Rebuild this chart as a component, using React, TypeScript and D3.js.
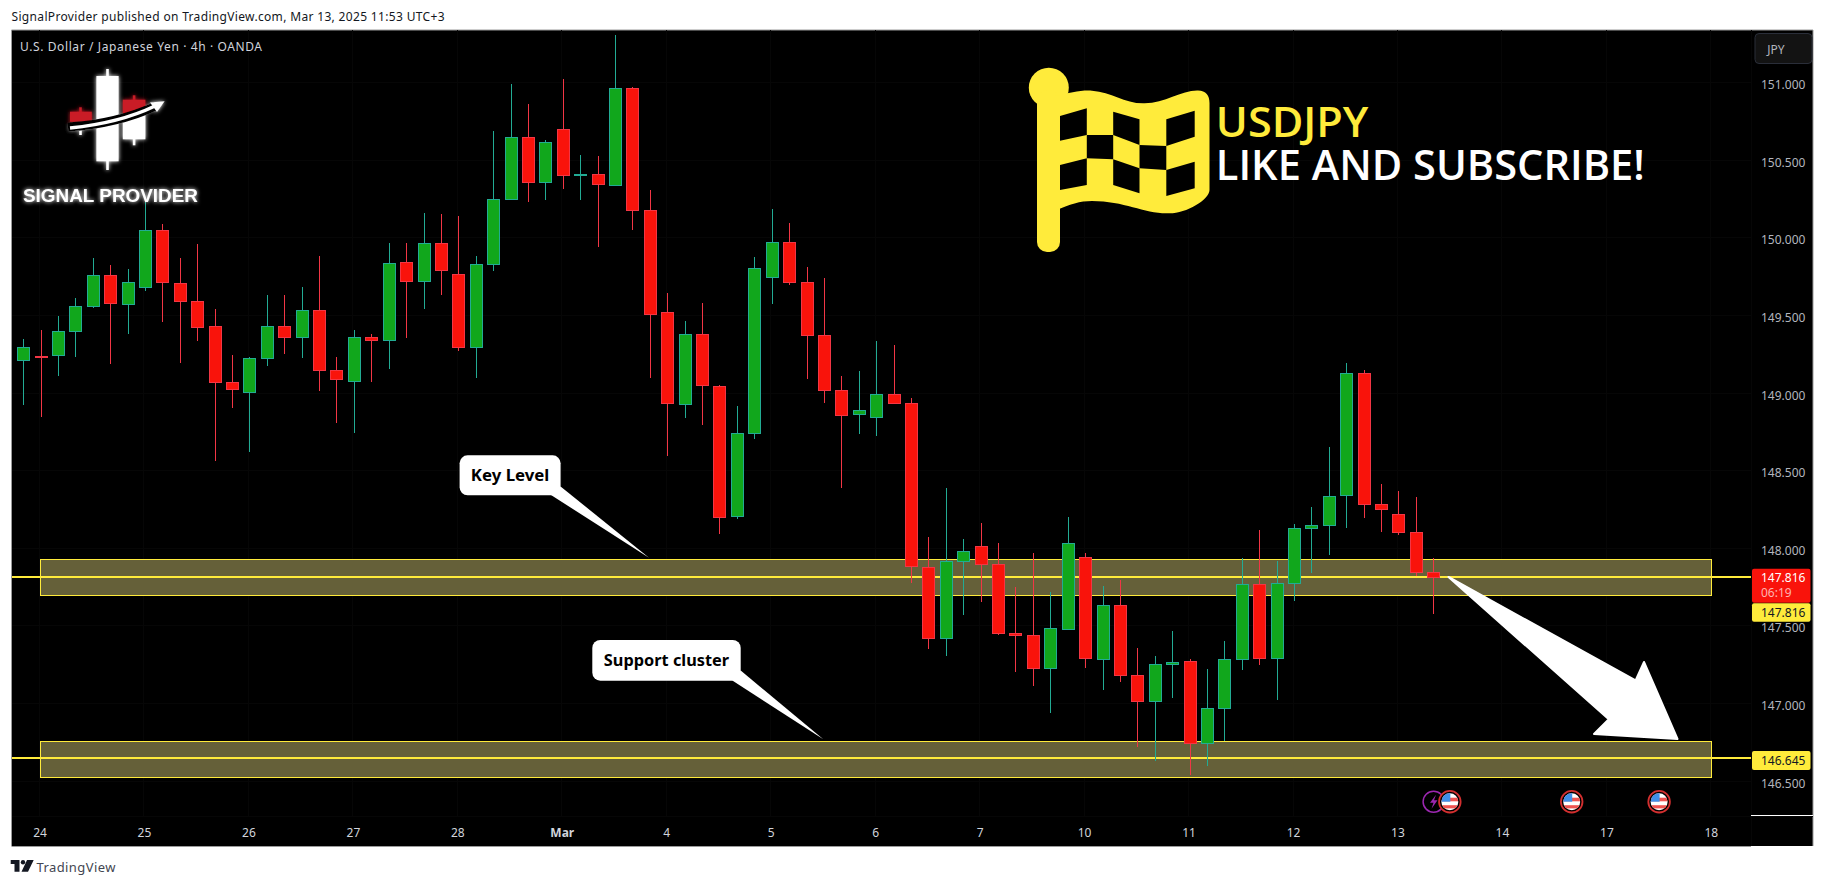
import { useEffect, useRef } from 'react';
import * as d3 from 'd3';

// USD/JPY 4h candles
const opens = [
  149.208, 149.238, 149.24, 149.401, 149.556, 149.758, 149.569, 149.678, 150.048, 149.707,
  149.593, 149.43, 149.069, 149.004, 149.221, 149.43, 149.356, 149.533, 149.146, 149.075,
  149.359, 149.337, 149.842, 149.717, 149.964, 149.765, 149.292, 149.827, 150.245, 150.647,
  150.355, 150.699, 150.407, 150.409, 150.336, 150.963, 150.177, 149.52, 148.925, 149.378,
  149.045, 148.203, 148.738, 149.743, 149.971, 149.713, 149.372, 149.017, 148.86, 148.847,
  148.992, 148.934, 147.877, 147.417, 147.913, 148.012, 147.896, 147.452, 147.439, 147.224,
  147.481, 147.941, 147.282, 147.632, 147.181, 147.011, 147.249, 147.271, 146.743, 146.966,
  147.282, 147.767, 147.288, 147.771, 148.126, 148.147, 148.338, 149.127, 148.283, 148.218,
  148.102, 147.845,
];
const highs = [
  149.348, 149.406, 149.496, 149.612, 149.868, 149.823, 149.797, 150.265, 150.087, 149.868,
  149.96, 149.541, 149.245, 149.232, 149.631, 149.631, 149.681, 149.881, 149.232, 149.406,
  149.38, 149.964, 149.964, 150.158, 150.151, 150.138, 149.881, 150.688, 150.991, 150.862,
  150.63, 151.023, 150.533, 150.527, 151.306, 150.97, 150.308, 149.644, 149.464, 149.58,
  149.051, 148.916, 149.876, 150.183, 150.093, 149.812, 149.741, 149.109, 149.142, 149.333,
  149.307, 148.968, 148.07, 148.388, 148.059, 148.16, 148.033, 147.752, 147.967, 147.718,
  148.199, 147.967, 147.754, 147.795, 147.357, 147.305, 147.467, 147.286, 147.222, 147.4,
  147.935, 148.117, 147.917, 148.156, 148.263, 148.652, 149.193, 149.148, 148.412, 148.368,
  148.33, 147.937,
];
const lows = [
  148.923, 148.847, 149.109, 149.232, 149.548, 149.187, 149.382, 149.657, 149.457, 149.195,
  149.335, 148.564, 148.905, 148.62, 149.176, 149.253, 149.227, 149.015, 148.809, 148.744,
  149.073, 149.155, 149.356, 149.543, 149.631, 149.271, 149.098, 149.788, 150.245, 150.232,
  150.243, 150.314, 150.243, 149.941, 150.334, 150.05, 149.098, 148.596, 148.841, 148.794,
  148.091, 148.19, 148.705, 149.575, 149.696, 149.09, 148.937, 148.39, 148.738, 148.725,
  148.931, 147.778, 147.352, 147.307, 147.571, 147.655, 147.441, 147.204, 147.114, 146.94,
  147.481, 147.23, 147.088, 147.14, 146.721, 146.631, 147.037, 146.541, 146.599, 146.758,
  147.215, 147.249, 147.024, 147.662, 147.84, 147.958, 148.132, 148.196, 148.106, 148.087,
  147.823, 147.576,
];
const closes = [
  149.294, 149.232, 149.397, 149.559, 149.758, 149.575, 149.713, 150.048, 149.711, 149.588,
  149.427, 149.066, 149.021, 149.223, 149.43, 149.356, 149.533, 149.144, 149.086, 149.359,
  149.337, 149.836, 149.717, 149.964, 149.788, 149.292, 149.829, 150.248, 150.647, 150.355,
  150.615, 150.4, 150.411, 150.342, 150.963, 150.174, 149.504, 148.931, 149.378, 149.047,
  148.203, 148.74, 149.803, 149.971, 149.711, 149.369, 149.015, 148.854, 148.888, 148.992,
  148.931, 147.881, 147.417, 147.916, 147.98, 147.894, 147.449, 147.436, 147.224, 147.484,
  148.032, 147.288, 147.632, 147.178, 147.011, 147.252, 147.265, 146.743, 146.968, 147.284,
  147.767, 147.288, 147.774, 148.128, 148.147, 148.334, 149.127, 148.28, 148.254, 148.1,
  147.845, 147.816,
];

const priceTicks = [151, 150.5, 150, 149.5, 149, 148.5, 148, 147.5, 147, 146.5];
const dayLabels = ['24', '25', '26', '27', '28', 'Mar', '4', '5', '6', '7', '10', '11', '12', '13', '14', '17', '18'];
const dayTicks = dayLabels.map((_, k) => 1 + k * 6); // six 4h bars per day

const keyZone = [147.928, 147.696];
const supportZone = [146.756, 146.521];
const keyLevel = 147.816;
const supportLevel = 146.645;
const zoneStartBar = 1;
const zoneEndBar = 97;
const eventBars = [81.95, 88.95, 93.97];

const UP = '#11a71c';
const UP_LINE = '#22ab94';
const DOWN = '#f9130b';
const DOWN_LINE = '#f23645';
const YELLOW = '#ffeb3b';
const FONT = '"Noto Sans", sans-serif';

export default function App() {
  const svgRef = useRef<SVGSVGElement>(null);

  useEffect(() => {
    if (!svgRef.current) return;
    const svg = d3.select(svgRef.current);
    svg.selectAll('*').remove();

    const left = 11.5;
    const plotRight = 1751;
    const right = 1813;
    const top = 30;
    const axisY = 816;
    const bottom = 846;

    const x = d3.scaleLinear().domain([0, 81]).range([23.1, 1433.3]);
    const y = d3.scaleLinear().domain([151, 146.5]).range([82.6, 781]);

    const defs = svg.append('defs');
    const glow = defs.append('filter').attr('id', 'glow').attr('x', '-30%').attr('y', '-30%').attr('width', '160%').attr('height', '160%');
    glow.append('feGaussianBlur').attr('in', 'SourceGraphic').attr('stdDeviation', 2.2).attr('result', 'blur');
    const merge = glow.append('feMerge');
    merge.append('feMergeNode').attr('in', 'blur');
    merge.append('feMergeNode').attr('in', 'SourceGraphic');

    // page and chart frame
    svg.append('rect').attr('width', 1825).attr('height', 886).attr('fill', '#fff');
    svg.append('rect').attr('x', left).attr('y', top).attr('width', right - left).attr('height', bottom - top).attr('fill', '#000');
    svg.append('path')
      .attr('d', `M${left},${bottom}V${top}H${right}V${bottom}`)
      .attr('fill', 'none').attr('stroke', '#9a9a9a').attr('stroke-width', 1);
    svg.append('line').attr('x1', left).attr('x2', plotRight).attr('y1', bottom + 0.5).attr('y2', bottom + 0.5).attr('stroke', '#9a9a9a');

    svg.append('text')
      .attr('x', 11.5).attr('y', 20.5)
      .attr('font-family', FONT).attr('font-size', 12).attr('fill', '#131722')
      .attr('textLength', 433).attr('lengthAdjust', 'spacing')
      .text('SignalProvider published on TradingView.com, Mar 13, 2025 11:53 UTC+3');

    // faint grid
    const grid = svg.append('g').attr('stroke', '#060606').attr('shape-rendering', 'crispEdges');
    grid.selectAll('line.v').data(dayTicks).join('line').attr('class', 'v')
      .attr('x1', (d) => x(d) - 1).attr('x2', (d) => x(d) - 1).attr('y1', top).attr('y2', axisY);
    grid.selectAll('line.h').data(priceTicks).join('line').attr('class', 'h')
      .attr('x1', left).attr('x2', plotRight).attr('y1', (d) => y(d)).attr('y2', (d) => y(d));
    grid.append('line').attr('x1', left).attr('x2', right).attr('y1', axisY).attr('y2', axisY);
    grid.append('line').attr('x1', plotRight).attr('x2', plotRight).attr('y1', top).attr('y2', bottom);

    // zones and their levels
    const zones = svg.append('g').attr('shape-rendering', 'crispEdges');
    [keyZone, supportZone].forEach(([hi, lo]) => {
      zones.append('rect')
        .attr('x', x(zoneStartBar)).attr('width', x(zoneEndBar) - x(zoneStartBar))
        .attr('y', y(hi)).attr('height', y(lo) - y(hi))
        .attr('fill', '#656039').attr('stroke', YELLOW).attr('stroke-width', 1);
    });
    [keyLevel, supportLevel].forEach((level) => {
      zones.append('line')
        .attr('x1', left).attr('x2', plotRight).attr('y1', y(level)).attr('y2', y(level))
        .attr('stroke', YELLOW).attr('stroke-width', 2);
    });

    // candles
    const bars = d3.range(opens.length);
    const candles = svg.append('g').attr('shape-rendering', 'crispEdges');
    const isUp = (i: number) => closes[i] >= opens[i];
    candles.selectAll('line').data(bars).join('line')
      .attr('x1', (i) => Math.round(x(i)) + 0.5).attr('x2', (i) => Math.round(x(i)) + 0.5)
      .attr('y1', (i) => y(highs[i])).attr('y2', (i) => y(lows[i]))
      .attr('stroke', (i) => (isUp(i) ? UP_LINE : DOWN_LINE));
    candles.selectAll('rect').data(bars).join('rect')
      .attr('x', (i) => Math.round(x(i)) - 5.5).attr('width', 12)
      .attr('y', (i) => Math.round(y(Math.max(opens[i], closes[i]))) + 0.5)
      .attr('height', (i) => Math.max(1, Math.round(Math.abs(y(opens[i]) - y(closes[i])))))
      .attr('fill', (i) => (isUp(i) ? UP : DOWN))
      .attr('stroke', (i) => (isUp(i) ? UP_LINE : DOWN_LINE));

    // title
    svg.append('text')
      .attr('x', 20).attr('y', 51)
      .attr('font-family', FONT).attr('font-size', 12).attr('fill', '#d1d4dc')
      .attr('textLength', 242).attr('lengthAdjust', 'spacing')
      .text('U.S. Dollar / Japanese Yen · 4h · OANDA');

    // logo
    const logo = svg.append('g').attr('filter', 'url(#glow)');
    const logoWhite = logo.append('g').attr('fill', '#fff');
    logoWhite.append('rect').attr('x', 106.2).attr('y', 69).attr('width', 2.6).attr('height', 101);
    logoWhite.append('rect').attr('x', 96.4).attr('y', 76).attr('width', 22.2).attr('height', 85.3);
    logoWhite.append('rect').attr('x', 79.2).attr('y', 125).attr('width', 2.6).attr('height', 10);
    logoWhite.append('rect').attr('x', 122.8).attr('y', 114).attr('width', 22.6).attr('height', 25.3);
    logoWhite.append('rect').attr('x', 132.8).attr('y', 139).attr('width', 2.6).attr('height', 6.3);
    const logoRed = logo.append('g').attr('fill', '#c91a25');
    logoRed.append('rect').attr('x', 79.2).attr('y', 107.3).attr('width', 2.6).attr('height', 5);
    logoRed.append('rect').attr('x', 70).attr('y', 111.7).attr('width', 21.8).attr('height', 10);
    logoRed.append('rect').attr('x', 132.8).attr('y', 95.3).attr('width', 2.6).attr('height', 5);
    logoRed.append('rect').attr('x', 122.8).attr('y', 99.7).attr('width', 22.6).attr('height', 14.3);
    logo.append('path').attr('d', 'M68,127 C100,125 130,118 156,106')
      .attr('fill', 'none').attr('stroke', '#000').attr('stroke-width', 9);
    logo.append('path').attr('d', 'M70,128 C100,125 130,118 155,106')
      .attr('fill', 'none').attr('stroke', '#fff').attr('stroke-width', 3.5);
    logo.append('path').attr('d', 'M164.6,101.3 L150,102.5 L157,112 Z').attr('fill', '#fff');
    logo.append('text')
      .attr('x', 23).attr('y', 201.7)
      .attr('font-family', '"Liberation Sans", Arial, sans-serif').attr('font-weight', 700)
      .attr('font-size', 18.5).attr('fill', '#fff')
      .attr('textLength', 175).attr('lengthAdjust', 'spacingAndGlyphs')
      .text('SIGNAL PROVIDER');

    // flag
    const flag = svg.append('g').attr('fill', YELLOW);
    flag.append('circle').attr('cx', 1048.8).attr('cy', 87.7).attr('r', 20);
    flag.append('rect').attr('x', 1037).attr('y', 90).attr('width', 23).attr('height', 162).attr('rx', 10);
    flag.append('path')
      .attr('d', 'M1055,96 C1070,93 1080,90 1092,90.7 C1112,92 1125,104 1144.7,103.3 C1165,103 1182,90 1198,90.5 C1206,91 1209.5,95 1209.5,103 V190 C1209.5,200 1185,214 1168.4,213.3 C1145,214 1125,201 1092,201 C1080,201 1070,204 1055,211 Z');
    const holes = [
      'M1060,116 L1086.8,108.3 V135 L1060,140.7 Z',
      'M1060,165 L1086.8,158.3 V185 L1060,190 Z',
      'M1086.8,135 L1113.2,135 V159.3 L1086.8,158.3 Z',
      'M1113.2,111.7 L1139.5,119.3 V145 L1113.2,135 Z',
      'M1113.2,159.3 L1139.5,168.3 V193.3 L1113.2,185 Z',
      'M1139.5,145 L1166.3,146 V170 L1139.5,168.3 Z',
      'M1166.3,119.3 L1194.7,110.7 V136.7 L1166.3,146 Z',
      'M1166.3,170 L1194.7,161.7 V188.3 L1166.3,196 Z',
    ];
    svg.append('g').selectAll('path').data(holes).join('path').attr('d', (d) => d).attr('fill', '#000');

    const banner = svg.append('g').attr('font-family', '"Open Sans", sans-serif').attr('font-size', 42).attr('font-weight', 600);
    banner.append('text').attr('x', 1215.8).attr('y', 137.3).attr('fill', YELLOW)
      .attr('textLength', 152.6).attr('lengthAdjust', 'spacingAndGlyphs').text('USDJPY');
    banner.append('text').attr('x', 1215.8).attr('y', 180).attr('fill', '#fff')
      .attr('textLength', 429).attr('lengthAdjust', 'spacingAndGlyphs').text('LIKE AND SUBSCRIBE!');

    // callouts
    const callout = (bx: number, by: number, bw: number, bh: number, tail: string, label: string, tw: number) => {
      const g = svg.append('g');
      g.append('path').attr('d', tail).attr('fill', '#fff');
      g.append('rect').attr('x', bx).attr('y', by).attr('width', bw).attr('height', bh).attr('rx', 8).attr('fill', '#fff');
      g.append('text')
        .attr('x', bx + bw / 2).attr('y', by + bh / 2 + 5.5)
        .attr('text-anchor', 'middle').attr('font-family', FONT).attr('font-weight', 700)
        .attr('font-size', 15.5).attr('fill', '#000')
        .attr('textLength', tw).attr('lengthAdjust', 'spacingAndGlyphs')
        .text(label);
    };
    callout(459.6, 455.3, 101, 40, 'M551,495 L649,557.7 L560.6,486.5 Z', 'Key Level', 78.5);
    callout(592.3, 640, 148.4, 40.7, 'M732.3,680.5 L823.3,739.3 L740.7,670.5 Z', 'Support cluster', 125.3);

    // big arrow
    svg.append('path')
      .attr('d', 'M1448.5,577 L1635.6,680.3 L1644,662 L1677.5,739 L1594,734 L1608.8,719.3 Z')
      .attr('fill', '#fff').attr('stroke', '#fff').attr('stroke-width', 2).attr('stroke-linejoin', 'round');

    // event markers
    const markerY = 801.7;
    const lightning = svg.append('g');
    lightning.append('circle').attr('cx', 1433.6).attr('cy', markerY).attr('r', 10.5)
      .attr('fill', '#000').attr('stroke', '#9c27b0').attr('stroke-width', 1.5);
    lightning.append('path')
      .attr('d', `M1436,${markerY - 7} L1430,${markerY + 1} H1433.5 L1431.5,${markerY + 7} L1437.5,${markerY - 1.5} H1434 Z`)
      .attr('fill', '#9c27b0');
    eventBars.forEach((bar, k) => {
      const cx = x(bar);
      const g = svg.append('g');
      g.append('clipPath').attr('id', `flag${k}`).append('circle').attr('cx', cx).attr('cy', markerY).attr('r', 8.5);
      g.append('circle').attr('cx', cx).attr('cy', markerY).attr('r', 10.8).attr('fill', '#000').attr('stroke', '#d32f2f').attr('stroke-width', 1.8);
      const f = g.append('g').attr('clip-path', `url(#flag${k})`);
      f.append('rect').attr('x', cx - 9).attr('y', markerY - 9).attr('width', 18).attr('height', 18).attr('fill', '#fff');
      f.append('rect').attr('x', cx - 9).attr('y', markerY - 4).attr('width', 18).attr('height', 3.6).attr('fill', '#ef5350');
      f.append('rect').attr('x', cx - 9).attr('y', markerY + 3.5).attr('width', 18).attr('height', 3.2).attr('fill', '#ef5350');
      f.append('rect').attr('x', cx - 9).attr('y', markerY - 9).attr('width', 9.5).attr('height', 9).attr('fill', '#3f8fe8');
    });

    // price axis
    const priceAxis = d3.axisRight(y).tickValues(priceTicks).tickSize(0).tickPadding(10)
      .tickFormat((d) => (d as number).toFixed(3));
    const pa = svg.append('g').attr('transform', `translate(${plotRight},0)`).call(priceAxis);
    pa.select('.domain').remove();
    pa.selectAll('text').attr('font-family', FONT).attr('font-size', 12).attr('fill', '#b2b5be').attr('dy', '0.5em');

    // time axis
    const timeAxis = d3.axisBottom(x).tickValues(dayTicks).tickSize(0).tickPadding(12)
      .tickFormat((_, k) => dayLabels[k]);
    const ta = svg.append('g').attr('transform', `translate(-1,${axisY})`).call(timeAxis);
    ta.select('.domain').remove();
    ta.selectAll('text')
      .attr('font-family', FONT).attr('font-size', 12).attr('fill', '#d1d4dc')
      .attr('font-weight', (d) => (d === dayTicks[5] ? 700 : 400));

    svg.append('line').attr('x1', plotRight).attr('x2', right).attr('y1', 815.5).attr('y2', 815.5).attr('stroke', '#fff');

    // JPY button
    svg.append('rect').attr('x', 1755).attr('y', 33.5).attr('width', 57).attr('height', 30).attr('rx', 4)
      .attr('fill', '#131313').attr('stroke', '#2a2e39');
    svg.append('text').attr('x', 1775.8).attr('y', 53.5).attr('text-anchor', 'middle')
      .attr('font-family', FONT).attr('font-size', 12).attr('fill', '#b2b5be').text('JPY');

    // last price tags
    const tags = svg.append('g').attr('font-family', FONT).attr('font-size', 12);
    tags.append('rect').attr('x', 1752).attr('y', y(keyLevel) - 8).attr('width', 58.5).attr('height', 34).attr('rx', 2).attr('fill', DOWN);
    tags.append('text').attr('x', 1761).attr('y', y(keyLevel) + 5.5).attr('fill', '#fff').text(keyLevel.toFixed(3));
    tags.append('text').attr('x', 1761).attr('y', y(keyLevel) + 20.5).attr('fill', '#ffb3b0').text('06:19');
    tags.append('rect').attr('x', 1752).attr('y', y(keyLevel) + 26.5).attr('width', 58.5).attr('height', 18.5).attr('rx', 2).attr('fill', YELLOW);
    tags.append('text').attr('x', 1761).attr('y', y(keyLevel) + 40).attr('fill', '#131722').text(keyLevel.toFixed(3));
    tags.append('rect').attr('x', 1752).attr('y', y(supportLevel) - 7.5).attr('width', 58.5).attr('height', 19).attr('rx', 2).attr('fill', YELLOW);
    tags.append('text').attr('x', 1761).attr('y', y(supportLevel) + 6.5).attr('fill', '#131722').text(supportLevel.toFixed(3));

    // footer
    const footer = svg.append('g').attr('fill', '#131722');
    footer.append('path').attr('d', 'M10.7,860 H19.5 V871.7 H14.5 V864 H10.7 Z');
    footer.append('circle').attr('cx', 23).attr('cy', 862.2).attr('r', 2.2);
    footer.append('path').attr('d', 'M27,860 H33.7 L28,871.7 H21.5 Z');
    footer.append('text').attr('x', 36.4).attr('y', 871.5)
      .attr('font-family', FONT).attr('font-size', 13).attr('fill', '#434651')
      .attr('textLength', 79).attr('lengthAdjust', 'spacing').text('TradingView');
  }, []);

  return (
    <svg
      ref={svgRef}
      width={1825}
      height={886}
      style={{ position: 'absolute', left: 0, top: 0, display: 'block' }}
    />
  );
}
